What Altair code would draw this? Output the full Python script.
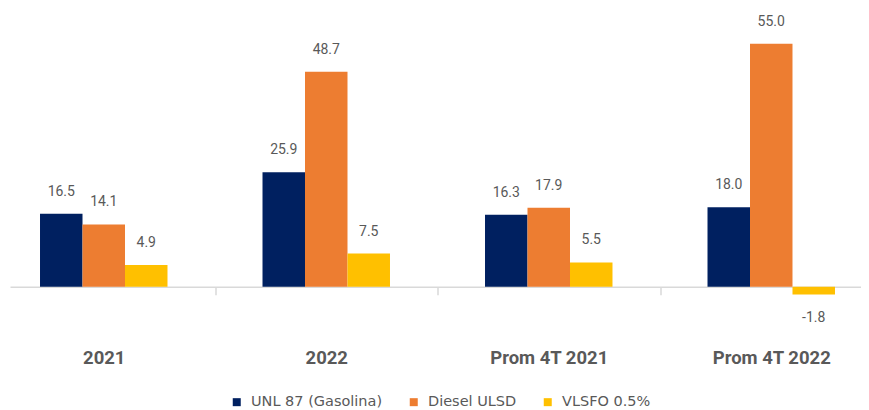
import altair as alt
import pandas as pd

categories = ["2021", "2022", "Prom 4T 2021", "Prom 4T 2022"]
series = ["UNL 87 (Gasolina)", "Diesel ULSD", "VLSFO 0.5%"]
unl87 = [16.5, 25.9, 16.3, 18.0]
diesel_ulsd = [14.1, 48.7, 17.9, 55.0]
vlsfo = [4.9, 7.5, 5.5, -1.8]
colors = ["#002060", "#ED7D31", "#FFC000"]

rows = []
for i, c in enumerate(categories):
    for s, vals in zip(series, [unl87, diesel_ulsd, vlsfo]):
        rows.append({"cat": c, "series": s, "value": vals[i]})
df = pd.DataFrame(rows)

GREY = "#595959"
LINE = "#d9d9d9"
VAL_FONT = "Roboto"

x = alt.X(
    "cat:N",
    sort=categories,
    scale=alt.Scale(paddingInner=0, paddingOuter=0),
    axis=alt.Axis(
        title=None, labelAngle=0, orient="bottom", offset=-44.1,
        tickBand="extent", tickSize=8, tickColor=LINE, tickWidth=1.5,
        domainColor=LINE, domainWidth=1.5, domainDash=[0, 17.5, 3000, 0],
        labelPadding=54, labelFont="Roboto", labelFontSize=18.5,
        labelFontWeight="bold", labelColor=GREY,
    ),
)
y = alt.Y("value:Q", scale=alt.Scale(domain=[-10, 60], nice=False, zero=False), axis=None)
# two empty slots either side of the three bars act as the outer gap of each group
offset_domain = ["_gap_left"] + series + ["_gap_right"]
xo = alt.XOffset("series:N", scale=alt.Scale(domain=offset_domain, paddingInner=0, paddingOuter=0.118))

base = alt.Chart(df).encode(x=x, y=y, xOffset=xo)

bars = base.mark_bar().encode(
    color=alt.Color(
        "series:N", sort=series,
        scale=alt.Scale(domain=series, range=colors),
        legend=alt.Legend(
            title=None, orient="none", legendX=237, legendY=373, direction="horizontal",
            symbolType="square", symbolSize=64, symbolStrokeWidth=0,
            labelFont="DejaVu Sans", labelFontSize=14.5, labelColor=GREY,
            columnPadding=24, labelOffset=7,
        ),
    )
)

label_expr = "replace(format(datum.value, '.1f'), '\u2212', '-')"
pos_text = base.transform_filter("datum.value >= 0").transform_calculate(lbl=label_expr).mark_text(
    dy=-22, fontSize=14, color=GREY, font=VAL_FONT
).encode(text="lbl:N")
neg_text = base.transform_filter("datum.value < 0").transform_calculate(lbl=label_expr).mark_text(
    dy=23, fontSize=14, color=GREY, font=VAL_FONT
).encode(text="lbl:N")

chart = alt.layer(bars, pos_text, neg_text).properties(
    width=890, height=309,
    autosize=alt.AutoSizeParams(type="none"),
    padding={"left": -15.5, "right": -21.5, "top": 13.8, "bottom": 80},
).configure_view(stroke=None)

chart.save("out.html", embed_options={"renderer": "svg", "actions": False})
